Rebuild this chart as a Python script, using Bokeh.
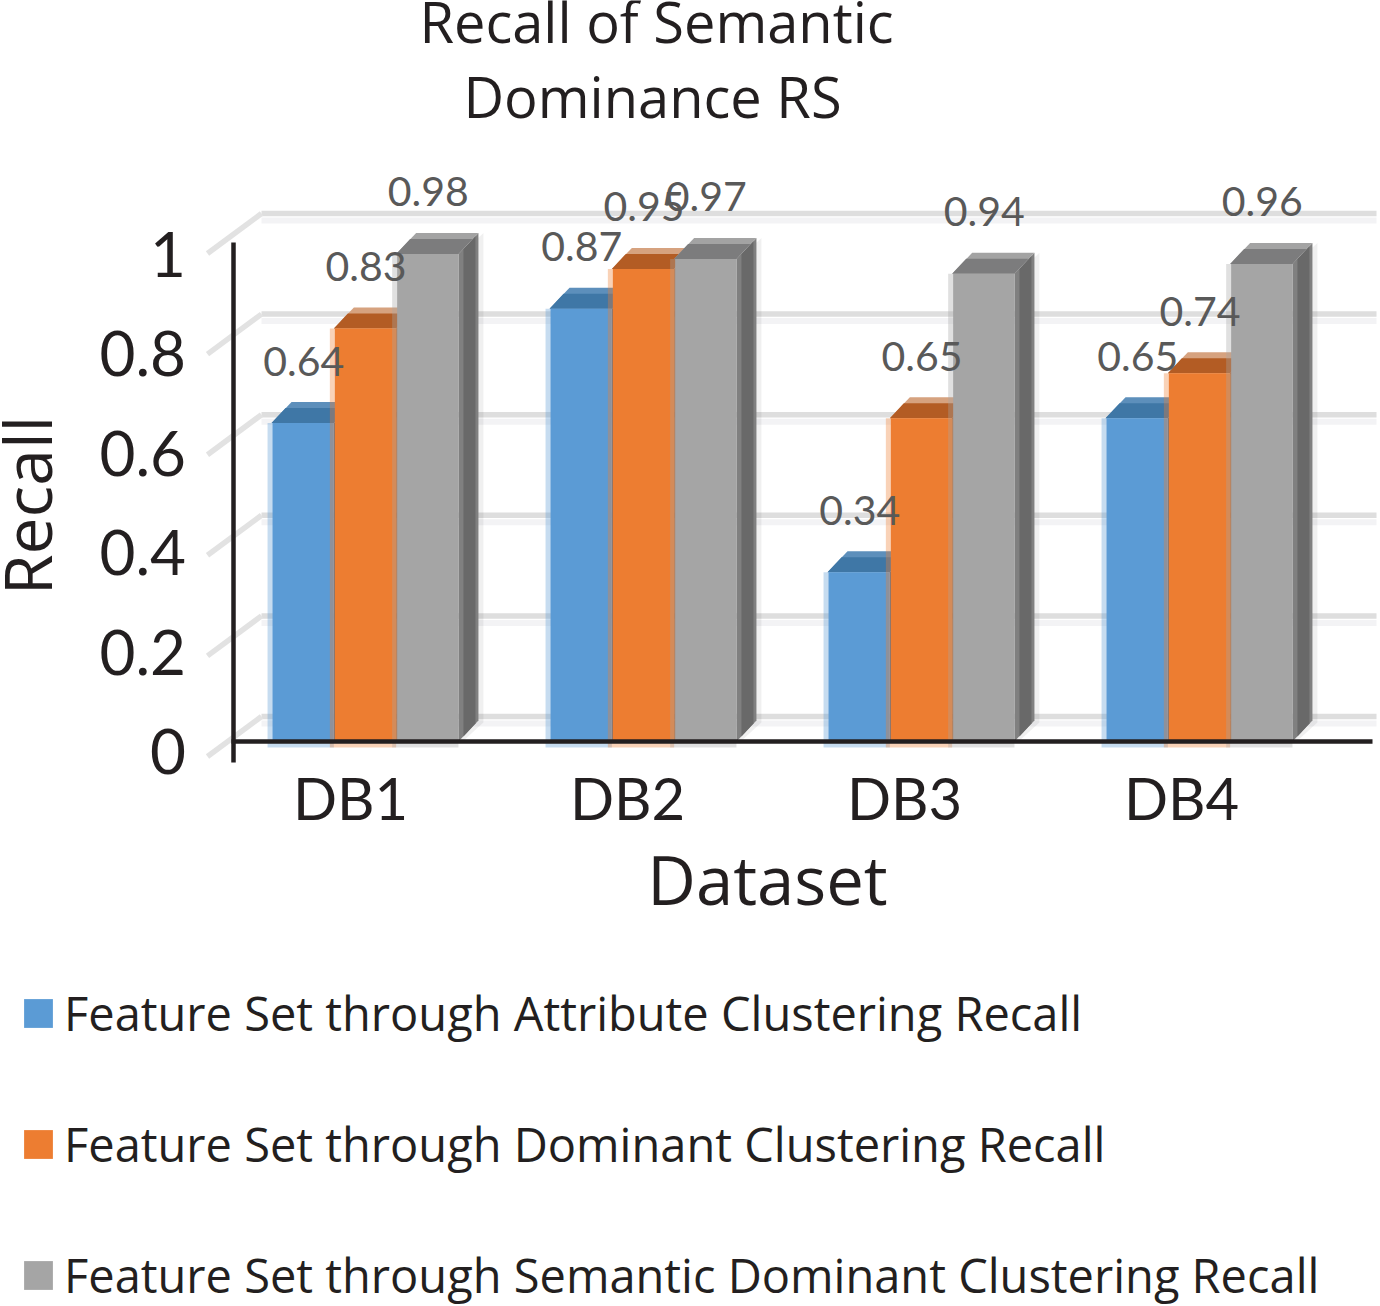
from math import pi
from bokeh.plotting import figure
from bokeh.models import (Range1d, LinearAxis, FixedTicker, Label, Legend, LegendItem,
                          ColumnDataSource)
from bokeh.core.properties import value
from bokeh.embed import file_html
from bokeh.resources import INLINE

categories = ["DB1", "DB2", "DB3", "DB4"]
attribute_recall = [0.64, 0.87, 0.34, 0.65]
dominant_recall = [0.83, 0.95, 0.65, 0.74]
semantic_recall = [0.98, 0.97, 0.94, 0.96]
y_ticks = [0, 0.2, 0.4, 0.6, 0.8, 1]
y_tick_labels = ["0", "0.2", "0.4", "0.6", "0.8", "1"]
series_names = ["Feature Set through Attribute Clustering Recall",
                "Feature Set through Dominant Clustering Recall",
                "Feature Set through Semantic Dominant Clustering Recall"]
title_lines = ["Recall of Semantic", "Dominance RS"]

FONT = "Lato"
WIDE = "Open Sans"
INK = "#231f20"
W, H = 1380, 1306
PXX, PXY = 278.0, 497.5      # pixels per category / per unit of recall
AX0, AY0 = 364.5, 741.0      # page position of DB1's centre and of recall 0
BAR = 62.3 / PXX
dx = lambda px: px / PXX
dy = lambda px: px / PXY

p = figure(width=W, height=H, output_backend="svg", toolbar_location=None,
           x_axis_location=None, y_axis_location=None, min_border=0,
           x_range=Range1d(1 + (0 - AX0) / PXX, 1 + (W - AX0) / PXX),
           y_range=Range1d((AY0 - H) / PXY, AY0 / PXY))
p.outline_line_color = None
p.grid.visible = False
p.extra_x_ranges["lab"] = Range1d(1 + (0 - 350) / 277, 1 + (W - 350) / 277)
p.extra_y_ranges["lab"] = Range1d((751 - H) / PXY, 751 / PXY)

# back wall gridlines and the slanted floor/side strokes
wall = [v * 1.011 + dy(25) for v in y_ticks]
x_wall = 1 + dx(261 - AX0)
x_end = 1 + dx(1376 - AX0)
p.segment(x_wall, [w - dy(7) for w in wall], x_end, [w - dy(7) for w in wall], line_color="#f3f3f5", line_width=6)
p.segment(x_wall, wall, x_end, wall, line_color="#dedede", line_width=5.5)
p.segment(x_wall, wall, x_wall - dx(54), [w - dy(40) for w in wall], line_color="#e2e2e2", line_width=5.5)

series = [
    (attribute_recall, -BAR, "#5b9bd5", "#3f77a6", "#5d8fbb", "#41719c"),
    (dominant_recall, 0, "#ed7d31", "#b35c24", "#d6a27f", "#ae5a21"),
    (semantic_recall, BAR, "#a5a5a5", "#7c7c7d", "#a3a3a3", "#808080"),
]
DX, DY = dx(20), dy(21)
fronts = []
for vals, off, col, top_dark, top_light, side in series:
    xc = [i + 1 + off for i in range(len(vals))]
    x0 = [x - BAR / 2 for x in xc]
    x1 = [x + BAR / 2 for x in xc]
    # faint outer shadow of the side face
    p.patches([[b + dx(2), b + DX + dx(5), b + DX + dx(5), b + dx(2)] for b in x1],
              [[dy(-2), dy(19), v + DY, v] for v in vals], fill_color="#000000", fill_alpha=0.06, line_color=None)
    # side face: light full depth with a darker core
    p.patches([[b, b + DX, b + DX, b] for b in x1],
              [[0, DY, v + DY, v] for v in vals], fill_color=side, line_color=None)
    p.patches([[b + dx(5), b + dx(17), b + dx(17), b + dx(5)] for b in x1],
              [[dy(5), dy(18), v + dy(18), v + dy(5)] for v in vals], fill_color="#696969", line_color=None)
    # top face: light back band and dark front band
    p.patches([[a, b, b + DX, a + DX] for a, b in zip(x0, x1)],
              [[v, v, v + DY, v + DY] for v in vals], fill_color=top_light, line_color=None)
    p.patches([[a, b, b + dx(14), a + dx(14)] for a, b in zip(x0, x1)],
              [[v, v, v + dy(15), v + dy(15)] for v in vals], fill_color=top_dark, line_color=None)
    # soft halo on the left and below the front
    p.quad(left=[a - dx(4) for a in x0], right=x1, bottom=dy(-6), top=vals,
           fill_color=col, fill_alpha=0.35, line_color=None)
    f = p.quad(left=[a + dx(1) for a in x0], right=x1, bottom=0, top=vals, fill_color=col, line_color=None)
    fronts.append(f)

# value labels
for vals, off, *_ in series:
    src = ColumnDataSource(dict(x=[i + 1 + off for i in range(len(vals))], y=vals,
                                t=[f"{v:.2f}" for v in vals]))
    p.text("x", "y", text="t", source=src, x_offset=1, y_offset=-62, text_align="center",
           text_baseline="middle", text_color="#595959", text_font=value(FONT), text_font_size="41px")

# axes
xax = LinearAxis(x_range_name="lab", fixed_location=0,
                 ticker=FixedTicker(ticks=[1, 2, 3, 4]),
                 major_label_overrides={i + 1: c for i, c in enumerate(categories)},
                 bounds=(1 + (231 - 350) / 277, 1 + (1372 - 350) / 277),
                 major_tick_line_color=None, minor_tick_line_color=None,
                 axis_line_color=INK, axis_line_width=4.5, major_label_standoff=15,
                 major_label_text_font=FONT, major_label_text_font_size="58px",
                 major_label_text_color=INK)
p.add_layout(xax, "below")
yax = LinearAxis(y_range_name="lab", fixed_location=1 + (232.5 - AX0) / PXX,
                 ticker=FixedTicker(ticks=y_ticks),
                 major_label_overrides=dict(zip(y_ticks, y_tick_labels)),
                 bounds=((751 - 762) / PXY, (751 - 242) / PXY),
                 major_tick_line_color=None, minor_tick_line_color=None,
                 axis_line_color=INK, axis_line_width=4.5, major_label_standoff=41,
                 major_label_text_font=FONT, major_label_text_font_size="62px",
                 major_label_text_color=INK)
p.add_layout(yax, "left")

# title and axis titles placed by page position (screen y counts from the bottom)
def label(text, ax, ay, size, angle=0, px=0, py=0):
    p.add_layout(Label(x=ax - px, y=H - ay + py, x_units="screen", y_units="screen", text=text,
                       text_font=WIDE, text_font_size=f"{size}px", text_color=INK, text_align="center",
                       text_baseline="alphabetic", angle=angle, angle_units="rad"))

label(title_lines[0], 656, 43, 56, py=0.4 * 56)
label(title_lines[1], 652, 118, 56, py=0.4 * 56)
label("Dataset", 767, 905, 67, py=0.4 * 67)
label("Recall", 52, 505, 66, angle=pi / 2, px=0.4 * 66)

legend = Legend(items=[LegendItem(label=n, renderers=[r]) for n, r in zip(series_names, fronts)],
                location=(20, -1), orientation="vertical", glyph_width=36, glyph_height=36,
                label_standoff=8, spacing=67, padding=0, margin=0, border_line_color=None,
                background_fill_alpha=0, label_text_font=WIDE, label_text_font_size="47px",
                label_text_color=INK, label_text_baseline="middle", label_height=30)
p.add_layout(legend, "center")

open("out.html", "w").write(file_html(p, INLINE))
